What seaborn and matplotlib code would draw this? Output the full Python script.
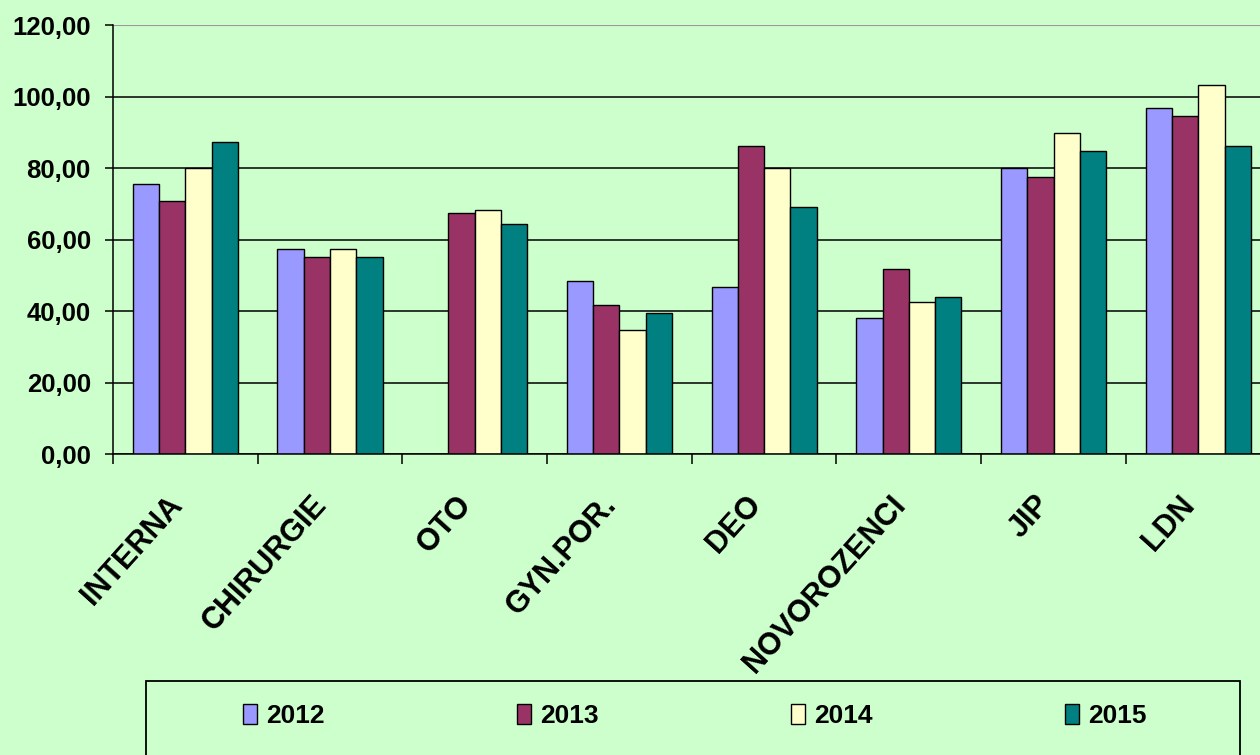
import numpy as np
import pandas as pd
import matplotlib
matplotlib.use("Agg")
import matplotlib.pyplot as plt
import matplotlib.transforms as mtransforms
import seaborn as sns
from matplotlib.patches import Patch, Rectangle
from matplotlib.ticker import FuncFormatter

categories = ["INTERNA", "CHIRURGIE", "OTO", "GYN.POR.", "DEO", "NOVOROZENCI", "JIP", "LDN"]
years = ["2012", "2013", "2014", "2015"]
v2012 = [75.7, 57.4, np.nan, 48.5, 46.8, 38.0, 80.0, 96.8]
v2013 = [70.8, 55.1, 67.5, 41.8, 86.3, 51.9, 77.5, 94.5]
v2014 = [80.0, 57.4, 68.4, 34.8, 80.0, 42.5, 89.9, 103.2]
v2015 = [87.2, 55.1, 64.3, 39.5, 69.2, 44.0, 84.9, 86.3]
colors = ["#9999FF", "#993366", "#FFFFCC", "#008080"]

BG = "#CCFFCC"

# long form table for seaborn
rows = []
for year, vals in zip(years, [v2012, v2013, v2014, v2015]):
    for cat, v in zip(categories, vals):
        rows.append({"oddeleni": cat, "rok": year, "hodnota": v})
df = pd.DataFrame(rows)

sns.set_style("white")
plt.rcParams["font.family"] = ["Liberation Sans", "DejaVu Sans"]
plt.rcParams["font.weight"] = "bold"
plt.rcParams["text.color"] = "black"
plt.rcParams["xtick.color"] = "black"
plt.rcParams["ytick.color"] = "black"
plt.rcParams["xtick.labelcolor"] = "black"
plt.rcParams["ytick.labelcolor"] = "black"

fig = plt.figure(figsize=(12.6, 7.55), dpi=100, facecolor=BG)
ax = fig.add_axes([113 / 1260, 1 - 454 / 755, 1157.6 / 1260, (454 - 25.3) / 755])
ax.set_facecolor(BG)

sns.barplot(data=df, x="oddeleni", y="hodnota", hue="rok", order=categories,
            hue_order=years, palette=colors, saturation=1, errorbar=None, width=0.727,
            edgecolor="black", linewidth=1, legend=False, ax=ax)

ax.set_xlim(-0.5, len(categories) - 0.5)
ax.set_ylim(0, 120)
ax.set_yticks(np.arange(0, 121, 20))
ax.yaxis.set_major_formatter(FuncFormatter(lambda v, p: f"{v:.2f}".replace(".", ",")))
ax.set_xlabel("")
ax.set_ylabel("")

ax.set_axisbelow(True)
ax.grid(axis="y", color="black", linewidth=1.1)
ax.get_ygridlines()[-1].set_color("#9a9a9a")
ax.get_ygridlines()[-1].set_linewidth(0.8)

for s in ["top", "right"]:
    ax.spines[s].set_visible(False)
for s in ["left", "bottom"]:
    ax.spines[s].set_color("black")
    ax.spines[s].set_linewidth(1.1)

# ticks at category boundaries, labels at centers
ax.set_xticks(np.arange(-0.5, len(categories)), labels=[])
ax.set_xticks(np.arange(len(categories)), labels=categories, minor=True)
ax.tick_params(axis="x", which="major", direction="out", length=7, width=1.1, color="black", bottom=True)
ax.tick_params(axis="x", which="minor", length=0, pad=33, labelcolor="black")
ax.tick_params(axis="y", direction="out", length=6, width=1.1, color="black", pad=10,
               labelsize=18.5, labelcolor="black", left=True)
shift = mtransforms.ScaledTranslation(-8 / 100, 0, fig.dpi_scale_trans)
for lab in ax.get_xticklabels(minor=True):
    lab.set_rotation(48)
    lab.set_ha("right")
    lab.set_va("center")
    lab.set_rotation_mode("anchor")
    lab.set_fontsize(22)
    lab.set_fontweight("bold")
    lab.set_transform(lab.get_transform() + shift)
for lab in ax.get_yticklabels():
    lab.set_fontweight("bold")

# legend box at the bottom
fig.patches.append(Rectangle((146 / 1260, -0.05), 1094 / 1260, 0.05 + 74 / 755,
                             transform=fig.transFigure, facecolor="none",
                             edgecolor="black", linewidth=1.3))
handles = [Patch(facecolor=c, edgecolor="black", linewidth=1) for c in colors]
fig.legend(handles, years, loc="center", bbox_to_anchor=(695 / 1260, 39 / 755),
           ncol=4, frameon=False, prop={"size": 19, "weight": "bold"},
           handlelength=0.53, handleheight=0.8, handletextpad=0.34,
           columnspacing=7.3, labelcolor="black")

fig.savefig("out.png", dpi=100, facecolor=BG)
